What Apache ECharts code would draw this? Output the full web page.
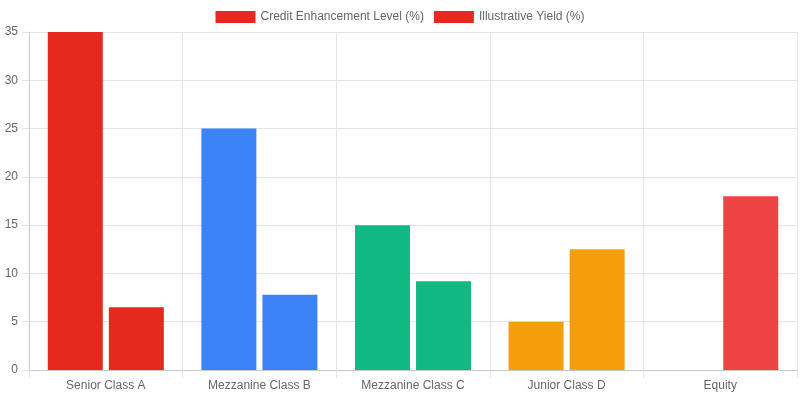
<!DOCTYPE html>
<html>
<head>
<meta charset="utf-8">
<script src="https://cdn.jsdelivr.net/npm/echarts@6/dist/echarts.min.js"></script>
<style>
  html, body { margin: 0; padding: 0; background: #fff; }
  #container1 { width: 800px; height: 400px; }
</style>
</head>
<body>
<div id="container1"></div>
<script>
var categories = ['Senior Class A', 'Mezzanine Class B', 'Mezzanine Class C', 'Junior Class D', 'Equity'];
var enhancement = [35, 25, 15, 5, 0];
var yieldPct = [6.5, 7.8, 9.2, 12.5, 18];
var enhancementColors = ['#e42a1d', '#3b82f6', '#10b981', '#f59e0b', '#ef4444'];
var yieldColors = ['#e42a1d', '#3b82f6', '#10b981', '#f59e0b', '#ef4444'];
var yTicks = [0, 5, 10, 15, 20, 25, 30, 35];

var dom = document.getElementById("container1");
var myChart = echarts.init(dom);

function colored(values, colors) {
    return values.map(function (v, i) {
        return { value: v, itemStyle: { color: colors[i] } };
    });
}

var option = {
    animation: false,
    textStyle: { fontFamily: 'Liberation Sans, Arial, sans-serif' },
    legend: {
        top: 6,
        left: 'center',
        icon: 'rect',
        itemWidth: 40,
        itemHeight: 12,
        itemGap: 10,
        textStyle: { color: '#666', fontSize: 12 },
        data: [
            { name: 'Credit Enhancement Level (%)', itemStyle: { color: '#e42a1d' } },
            { name: 'Illustrative Yield (%)', itemStyle: { color: '#e42a1d' } }
        ]
    },
    grid: { left: 29, right: 3, top: 32, bottom: 30 },
    xAxis: {
        type: 'category',
        data: categories,
        boundaryGap: true,
        axisLine: { lineStyle: { color: '#c8c8c8' } },
        axisTick: { show: true, length: 8, lineStyle: { color: '#e5e5e5' } },
        axisLabel: { color: '#666', fontSize: 12, margin: 10 },
        splitLine: { show: true, lineStyle: { color: '#e5e5e5' } }
    },
    yAxis: {
        type: 'value',
        min: yTicks[0],
        max: yTicks[yTicks.length - 1],
        interval: 5,
        axisLine: { show: true, lineStyle: { color: '#c8c8c8' } },
        axisTick: { show: true, length: 7, lineStyle: { color: '#e5e5e5' } },
        axisLabel: { color: '#666', fontSize: 12, margin: 11 },
        splitLine: { show: true, lineStyle: { color: '#e5e5e5' } }
    },
    series: [
        {
            name: 'Credit Enhancement Level (%)',
            type: 'bar',
            barWidth: 55,
            barGap: '11%',
            itemStyle: { color: '#e42a1d' },
            data: colored(enhancement, enhancementColors)
        },
        {
            name: 'Illustrative Yield (%)',
            type: 'bar',
            barWidth: 55,
            barGap: '11%',
            itemStyle: { color: '#e42a1d' },
            data: colored(yieldPct, yieldColors)
        }
    ]
};

if (option && typeof option === "object") {
    myChart.setOption(option, true);
}
</script>
</body>
</html>
